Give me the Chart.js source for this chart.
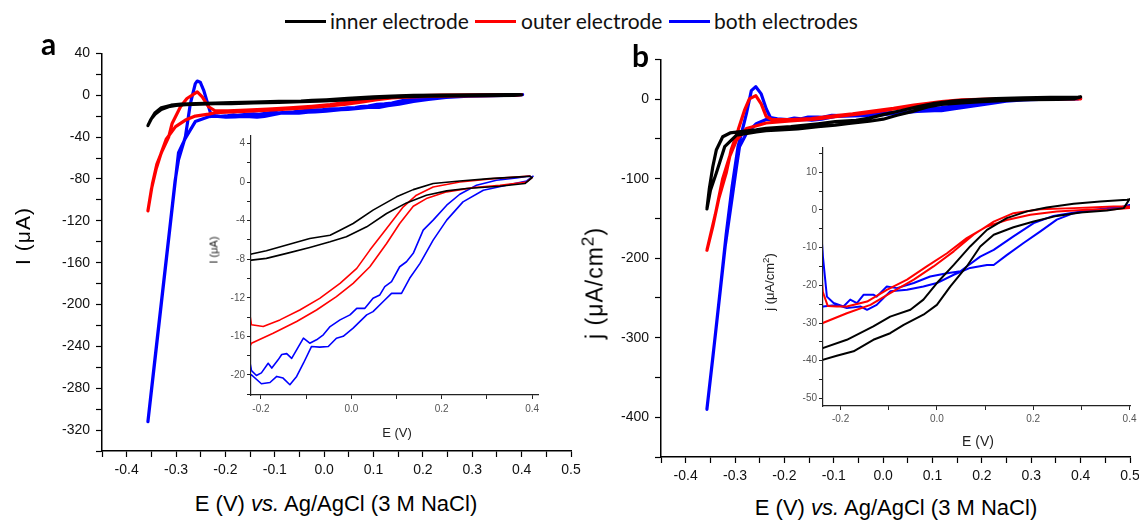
<!DOCTYPE html>
<html><head><meta charset="utf-8"><title>CV electrodes</title>
<script src="https://cdn.jsdelivr.net/npm/chart.js@4.4.1/dist/chart.umd.min.js"></script>
<style>
html,body{margin:0;padding:0;background:#fff;overflow:hidden;width:1139px;height:521px;position:relative;}
canvas{position:absolute;}
.txt{position:absolute;white-space:nowrap;line-height:1;color:#000;font-family:"Liberation Sans",Arial,sans-serif;}
.ctr{transform:translate(-50%,-50%);}
.rot{transform:translate(-50%,-50%) rotate(-90deg);}
.leg{font-family:Lato,sans-serif;font-size:21px;color:#111;}
.sw{position:absolute;height:3px;}
.pl{font-family:Lato,sans-serif;font-weight:bold;font-size:30px;}
sup{font-size:0.75em;vertical-align:0.5em;line-height:0;}
</style></head><body>

<div class="sw" style="left:285px;top:20px;width:41px;background:#000"></div>
<div class="txt leg" style="left:330px;top:10px">inner electrode</div>
<div class="sw" style="left:475px;top:20px;width:41px;background:#ff0000"></div>
<div class="txt leg" style="left:521px;top:10px">outer electrode</div>
<div class="sw" style="left:669px;top:20px;width:41px;background:#0000ff"></div>
<div class="txt leg" style="left:714px;top:10px">both electrodes</div>

<canvas id="aMain"></canvas>
<canvas id="bMain"></canvas>
<canvas id="aInset"></canvas>
<canvas id="bInset"></canvas>

<div class="txt pl" style="left:41px;top:28px">a</div>
<div class="txt pl" style="left:632px;top:40px">b</div>

<div class="txt rot" style="left:22px;top:236px;font-size:21px;letter-spacing:1px">I (μA)</div>
<div class="txt ctr" style="left:336px;top:504px;font-size:22px">E (V) <i>vs.</i> Ag/AgCl (3 M NaCl)</div>
<div class="txt rot" style="left:595px;top:283px;font-size:23px;letter-spacing:1px">j (μA/cm<sup>2</sup>)</div>
<div class="txt ctr" style="left:896px;top:508px;font-size:22px">E (V) <i>vs.</i> Ag/AgCl (3 M NaCl)</div>

<div class="txt rot" style="left:214px;top:250px;font-size:11px;color:#222">I (μA)</div>
<div class="txt ctr" style="left:397px;top:432px;font-size:13px;color:#222">E (V)</div>
<div class="txt rot" style="left:769px;top:282px;font-size:13px;color:#222">j (μA/cm<sup>2</sup>)</div>
<div class="txt ctr" style="left:978px;top:441px;font-size:14px;color:#222">E (V)</div>

<script>
// ---------- tick values / labels ----------
const mainXTicks = [-0.4,-0.3,-0.2,-0.1,0.0,0.1,0.2,0.3,0.4,0.5];
const mainXLabels = ['-0.4','-0.3','-0.2','-0.1','0.0','0.1','0.2','0.3','0.4','0.5'];
const aMainYTicks = [40,0,-40,-80,-120,-160,-200,-240,-280,-320];
const bMainYTicks = [0,-100,-200,-300,-400];
const insetXTicks = [-0.2,0.0,0.2,0.4];
const insetXLabels = ['-0.2','0.0','0.2','0.4'];
const aInsetYTicks = [4,0,-4,-8,-12,-16,-20];
const bInsetYTicks = [10,0,-10,-20,-30,-40,-50];

// ---------- panel a : current I (uA) vs E (V) ----------
const aInnerE = [0.400,0.384,0.328,0.255,0.211,0.166,0.122,0.078,0.034,-0.011,-0.047,-0.092,-0.143,-0.188,-0.221,-0.250,-0.280,-0.300,-0.315,-0.330,-0.342,-0.350,-0.357,-0.352,-0.343,-0.330,-0.310,-0.290,-0.260,-0.221,-0.188,-0.143,-0.092,-0.047,-0.025,0.004,0.048,0.100,0.137,0.181,0.240,0.306,0.373,0.395,0.400];
const aInnerI = [0.48,-0.14,-0.42,-0.66,-0.90,-1.35,-2.15,-3.25,-4.63,-5.67,-6.19,-6.77,-7.39,-7.91,-8.09,-8.4,-8.9,-9.8,-11.0,-13.5,-18.0,-22.5,-29.0,-24.0,-17.0,-12.0,-9.5,-8.4,-7.9,-7.46,-7.12,-6.53,-5.84,-5.50,-4.98,-4.29,-2.90,-1.52,-0.77,-0.14,0.13,0.37,0.55,0.62,0.48];

const aOuterE = [0.400,0.388,0.329,0.270,0.211,0.166,0.137,0.107,0.078,0.041,0.004,-0.033,-0.077,-0.121,-0.173,-0.221,-0.234,-0.261,-0.281,-0.301,-0.320,-0.330,-0.340,-0.350,-0.357,
  -0.348,-0.339,-0.328,-0.315,-0.308,-0.291,-0.278,-0.257,-0.247,-0.234,-0.221,-0.195,-0.158,-0.114,-0.070,-0.025,0.012,0.041,0.078,0.115,0.144,0.181,0.240,0.314,0.395];
const aOuterI = [0.48,0.03,-0.32,-0.56,-1.00,-1.70,-2.49,-4.29,-6.36,-8.78,-10.50,-11.88,-13.27,-14.47,-15.68,-16.72,-18.0,-19.9,-23.7,-30.0,-42.0,-55.0,-70.0,-90.0,-110.5,
  -85,-66,-53,-40,-27,-11,-3.1,3.2,-1.5,-11,-14.8,-14.99,-14.3,-13.27,-12.06,-10.5,-8.95,-7.05,-4.8,-2.56,-1.35,-0.49,0.03,0.37,0.65];

const aBothE = [0.402,0.388,0.343,0.292,0.247,0.211,0.181,0.152,0.129,0.111,0.089,0.074,0.048,0.034,0.004,-0.018,-0.033,-0.051,-0.070,-0.088,-0.106,-0.121,-0.136,-0.151,-0.165,-0.180,-0.199,-0.221,-0.234,-0.261,-0.281,-0.295,-0.305,-0.318,-0.330,-0.342,-0.357,
  -0.350,-0.338,-0.325,-0.312,-0.302,-0.295,-0.281,-0.271,-0.261,-0.257,-0.251,-0.244,-0.230,-0.221,-0.210,-0.199,-0.184,-0.176,-0.162,-0.154,-0.143,-0.132,-0.106,-0.092,-0.077,-0.062,-0.047,-0.025,-0.003,0.012,0.030,0.048,0.063,0.074,0.089,0.107,0.122,0.137,0.159,0.181,0.211,0.240,0.277,0.321,0.365,0.395];
const aBothI = [0.62,0.13,-0.32,-0.83,-2.04,-3.94,-6.01,-8.43,-9.98,-11.54,-11.54,-12.23,-13.44,-13.78,-15.16,-16.0,-16.2,-17.06,-17.13,-17.06,-18.8,-20.17,-21.03,-20.34,-20.17,-20.8,-20.93,-20.0,-20.5,-25.2,-41,-55,-96,-150,-200,-250,-312,
  -282,-232,-178,-124,-82,-61.6,-39.4,-7.9,11.1,13.6,12.5,4.7,-17.3,-19.55,-20.07,-19.8,-18.8,-19.3,-18.45,-17.9,-17.8,-18.3,-16.2,-16.72,-16.37,-15.85,-14.99,-14.3,-13.78,-13.1,-13.1,-12.06,-11.71,-10.85,-10.33,-8.78,-8.26,-7.39,-4.98,-3.94,-2.39,-1.25,-0.32,0.20,0.44,0.65];

// ---------- panel b : current density j (uA/cm2) vs E (V) ----------
const bInnerE = [0.400,0.388,0.353,0.298,0.249,0.201,0.159,0.118,0.090,0.062,0.028,0.000,-0.028,-0.069,-0.097,-0.132,-0.173,-0.208,-0.237,-0.257,-0.297,-0.321,-0.338,-0.350,-0.357,
  -0.352,-0.345,-0.338,-0.325,-0.310,-0.280,-0.257,-0.237,-0.187,-0.132,-0.097,-0.055,-0.028,0.000,0.035,0.069,0.104,0.145,0.187,0.228,0.284,0.339,0.395,0.400];
const bInnerJ = [2.84,0.46,-0.16,-0.70,-1.60,-3.10,-4.60,-6.60,-9.70,-15.0,-20.3,-25.2,-27.8,-30.5,-32.7,-34.45,-37.5,-38.7,-39.75,-41.1,-45.3,-59.8,-93,-115,-138,
  -112,-84.7,-64,-47.3,-42.5,-40,-38.5,-36.65,-34.45,-30.9,-28.3,-26.5,-23.8,-19.4,-14.6,-9.7,-5.3,-2.2,-0.4,0.63,1.6,2.2,2.67,2.84];

const bOuterE = [0.400,0.367,0.284,0.215,0.159,0.118,0.076,0.035,-0.007,-0.048,-0.097,-0.138,-0.187,-0.237,-0.260,-0.277,-0.297,-0.311,-0.325,-0.340,-0.357,
  -0.345,-0.333,-0.318,-0.308,-0.294,-0.281,-0.271,-0.258,-0.247,-0.237,-0.2265,-0.208,-0.187,-0.145,-0.104,-0.062,-0.021,0.021,0.062,0.104,0.145,0.194,0.249,0.311,0.367,0.400];
const bOuterJ = [0.90,0.90,0.46,0.19,-0.87,-3.10,-6.60,-11.0,-15.0,-18.5,-22.1,-25.2,-27.4,-30.0,-34,-37,-51.6,-72.2,-100,-145,-190,
  -160,-125,-93,-64,-39.1,-14.2,0.4,4.5,-5.9,-21.7,-25.5,-25.6,-25.6,-24.3,-21.2,-18.5,-15.0,-11.5,-7.5,-4.4,-2.7,-1.3,-0.43,0.0,0.19,0.46];

const bBothE = [0.400,0.374,0.332,0.284,0.249,0.215,0.180,0.145,0.118,0.104,0.069,0.035,0.000,-0.028,-0.062,-0.097,-0.125,-0.145,-0.159,-0.187,-0.208,-0.237,-0.257,-0.277,-0.291,-0.297,-0.305,-0.320,-0.340,-0.357,
  -0.345,-0.330,-0.318,-0.306,-0.294,-0.287,-0.277,-0.267,-0.258,-0.247,-0.2367,-0.2284,-0.2145,-0.194,-0.180,-0.166,-0.152,-0.132,-0.125,-0.104,-0.083,-0.048,-0.014,0.021,0.049,0.062,0.090,0.118,0.159,0.201,0.242,0.298,0.353,0.395];
const bBothJ = [1.30,0.46,0.00,-0.87,-2.60,-5.70,-8.80,-12.0,-14.6,-14.6,-15.4,-17.2,-19.4,-20.3,-21.2,-21.6,-25.2,-26.5,-25.6,-26.05,-25.2,-25.6,-30.8,-43.2,-59.8,-84.7,-120,-185,-297,-390,
  -325,-240,-170,-110,-59.8,-43.2,-18.3,10.7,15.7,6.6,-12.4,-23.0,-24.7,-25.6,-23.8,-24.7,-22.5,-22.5,-23.0,-20.3,-20.75,-19.4,-17.66,-16.8,-16.3,-15.0,-12.4,-10.6,-7.05,-3.5,-1.6,-0.43,0.46,0.46];

const seriesNames = ['inner electrode','outer electrode','both electrodes'];
const seriesColors = ['#000000','#ff0000','#0000ff'];

// ---------- helpers ----------
function zip(xs, ys){ return xs.map((x,i)=>({x:x, y:ys[i]})); }
function tickValues(majors, min, max){
  const step = Math.abs(majors[1]-majors[0])/2, base = majors[0];
  const kmin = Math.ceil((min-base)/step - 1e-6), kmax = Math.floor((max-base)/step + 1e-6);
  const out = [];
  for (let k=kmin;k<=kmax;k++) out.push({value: Math.round((base+k*step)*1e6)/1e6});
  return out;
}
function labelFor(v, majors, labels){
  for (let i=0;i<majors.length;i++) if (Math.abs(v-majors[i])<1e-6) return labels ? labels[i] : String(majors[i]);
  return '';
}

function makeChart(id, box, sp){
  const cv = document.getElementById(id);
  const W = (box.R-box.L)+sp.yW+sp.pR, H = (box.B-box.T)+sp.pT+sp.xH;
  cv.width = W; cv.height = H;
  cv.style.width = W+'px'; cv.style.height = H+'px';
  cv.style.left = (box.L-sp.yW)+'px'; cv.style.top = (box.T-sp.pT)+'px';
  const font = {family:'"Liberation Sans", Arial, sans-serif', size: sp.fs};
  const datasets = sp.series.map((s,i)=>({
    label: seriesNames[i], data: zip(s[0], s[1]),
    borderColor: seriesColors[i], backgroundColor: seriesColors[i],
    borderWidth: sp.lw, showLine: true, pointRadius: 0, tension: 0, fill: false,
    borderJoinStyle: 'round', borderCapStyle: 'round'
  }));
  const axisCommon = (xy) => ({
    type: 'linear',
    min: xy.min, max: xy.max,
    afterBuildTicks: (s)=>{ s.ticks = tickValues(xy.majors, xy.min, xy.max); },
    grid: {display: true, drawOnChartArea: false, drawTicks: true, tickLength: sp.tl, tickColor: sp.axisColor, tickWidth: sp.tw},
    border: {display: true, color: sp.axisColor, width: sp.bw},
    ticks: {autoSkip: false, maxRotation: 0, minRotation: 0, font: font, color: sp.labelColor, padding: xy.pad,
      callback: (v)=> labelFor(v, xy.majors, xy.labels)}
  });
  const xOpt = axisCommon(sp.x); xOpt.afterFit = (s)=>{ s.height = sp.xH; };
  const yOpt = axisCommon(sp.y); yOpt.afterFit = (s)=>{ s.width = sp.yW; };
  return new Chart(cv, {
    type: 'scatter',
    data: {datasets: datasets},
    options: {
      responsive: false, animation: false, devicePixelRatio: 1,
      layout: {padding: {left: 0, top: sp.pT, right: sp.pR, bottom: 0}},
      plugins: {legend: {display: false}, tooltip: {enabled: false}, title: {display: false}},
      scales: {x: xOpt, y: yOpt}
    }
  });
}

const mainStyle = {yW: 60, xH: 30, pT: 10, pR: 15, fs: 14, lw: 3.2, tl: 6, tw: 1.2, bw: 1.5, axisColor: '#000', labelColor: '#111'};
const insetStyle = {yW: 40, xH: 24, pT: 8, pR: 12, fs: 10, lw: 1.6, tl: 4, tw: 1, bw: 1.2, axisColor: '#222', labelColor: '#555'};

makeChart('aMain', {L:102, T:49, R:571, B:451}, Object.assign({}, mainStyle, {
  series: [[aInnerE,aInnerI],[aOuterE,aOuterI],[aBothE,aBothI]],
  x: {min:-0.45, max:0.5, majors: mainXTicks, labels: mainXLabels, pad: 5},
  y: {min:-340, max:40, majors: aMainYTicks, pad: 6}
}));
makeChart('bMain', {L:661, T:55, R:1130, B:457}, Object.assign({}, mainStyle, {
  series: [[bInnerE,bInnerJ],[bOuterE,bOuterJ],[bBothE,bBothJ]],
  x: {min:-0.45, max:0.5, majors: mainXTicks, labels: mainXLabels, pad: 5},
  y: {min:-450, max:50, majors: bMainYTicks, pad: 6}
}));
makeChart('aInset', {L:251, T:136, R:538, B:395}, Object.assign({}, insetStyle, {
  series: [[aInnerE,aInnerI],[aOuterE,aOuterI],[aBothE,aBothI]],
  x: {min:-0.222, max:0.413, majors: insetXTicks, labels: insetXLabels, pad: 4},
  y: {min:-22.1, max:4.8, majors: aInsetYTicks, pad: 2}
}));
makeChart('bInset', {L:823, T:148, R:1130, B:406}, Object.assign({}, insetStyle, {
  lw: 2,
  series: [[bInnerE,bInnerJ],[bOuterE,bOuterJ],[bBothE,bBothJ]],
  x: {min:-0.2365, max:0.401, majors: insetXTicks, labels: insetXLabels, pad: 3},
  y: {min:-52, max:16.4, majors: bInsetYTicks, pad: 2}
}));
</script>
</body></html>
